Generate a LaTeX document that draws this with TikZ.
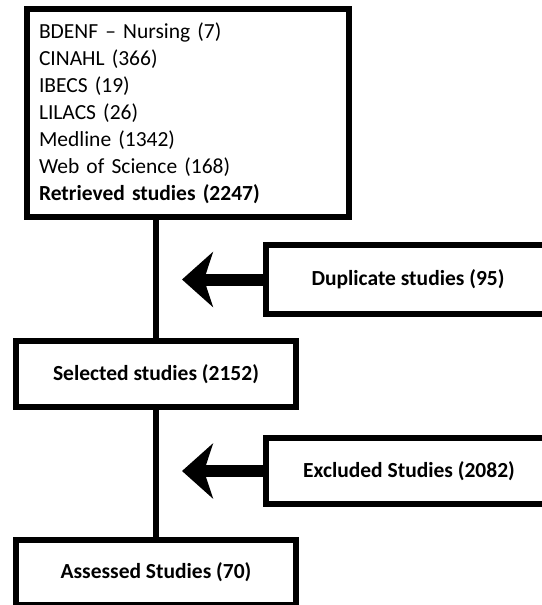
\documentclass[tikz,border=0pt]{standalone}
\usepackage{fontspec}
\setmainfont{Carlito}
\usetikzlibrary{arrows.meta}

\begin{document}
\begin{tikzpicture}[x=1pt, y=-1pt, every node/.style={font=\fontsize{21.5}{27}\selectfont},
    box/.style={draw, line width=6pt, inner sep=0pt, align=center},
    flow/.style={line width=6pt},
    cut/.style={line width=12pt, -{Stealth[length=31pt, width=55pt, inset=9pt]}}]
    \useasboundingbox (0,0) rectangle (541,605);
    \node[box, minimum width=322pt, minimum height=208pt, text width=298pt, align=left] (retrieved) at (188,113)
      {BDENF -- Nursing (7)\\CINAHL (366)\\IBECS (19)\\LILACS (26)\\Medline (1342)\\Web of Science (168)\\\textbf{Retrieved studies (2247)}};
    \node[box, minimum width=280pt, minimum height=66pt] (selected) at (156,374) {\textbf{Selected studies (2152)}};
    \node[box, minimum width=280pt, minimum height=65pt] (assessed) at (156,572.5) {\textbf{Assessed Studies (70)}};
    \node[box, minimum width=284pt, minimum height=69pt] (duplicate) at (408,279.5) {\textbf{Duplicate studies (95)}};
    \node[box, minimum width=286pt, minimum height=66pt] (excluded) at (409,471) {\textbf{Excluded Studies (2082)}};
    \coordinate (duptip) at (182,279.5);
    \coordinate (exctip) at (182,471);
    \draw[flow] (retrieved.south -| selected.north) -- (selected.north);
    \draw[flow] (selected) -- (assessed);
    \draw[cut] (duplicate) -- (duptip);
    \draw[cut] (excluded) -- (exctip);
  \end{tikzpicture}
\end{document}
